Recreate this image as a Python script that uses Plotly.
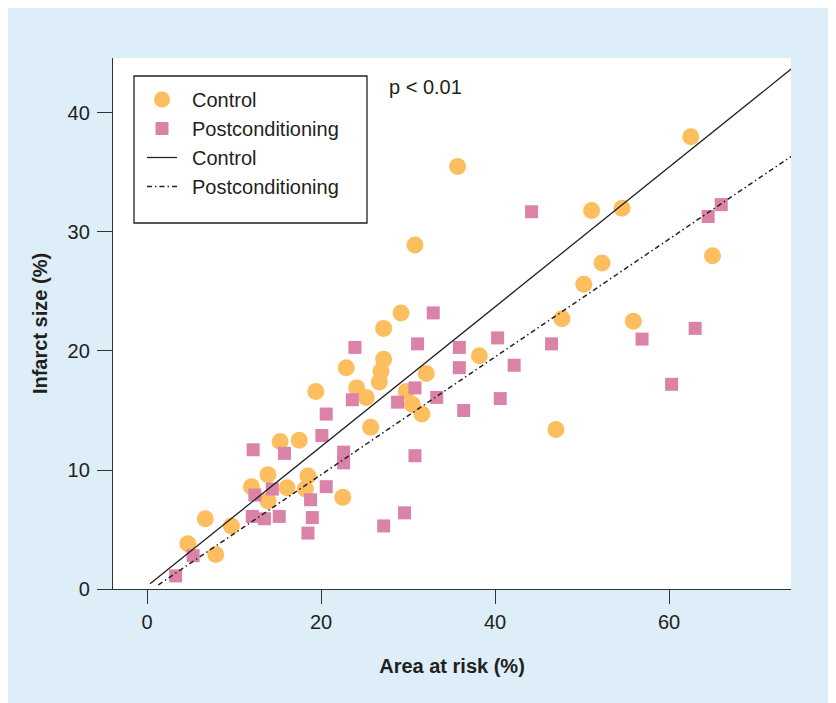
import plotly.graph_objects as go
import numpy as np

# ---- data ----
control_x = [4.7, 6.7, 7.9, 9.7, 12.0, 13.9, 13.9, 15.3, 16.1, 17.5, 18.2, 18.5, 19.4,
             22.5, 22.9, 24.1, 25.2, 25.7, 26.7, 26.9, 27.2, 27.2, 29.2, 29.8, 30.5,
             30.8, 31.6, 32.1, 35.7, 38.2, 47.0, 47.7, 50.2, 51.1, 52.3, 54.6, 55.9,
             62.5, 65.0]
control_y = [3.8, 5.9, 2.9, 5.3, 8.6, 9.6, 7.4, 12.4, 8.5, 12.5, 8.4, 9.5, 16.6,
             7.7, 18.6, 16.9, 16.1, 13.6, 17.4, 18.3, 19.3, 21.9, 23.2, 16.6, 15.5,
             28.9, 14.7, 18.1, 35.5, 19.6, 13.4, 22.7, 25.6, 31.8, 27.4, 32.0, 22.5,
             38.0, 28.0]

post_x = [3.3, 5.3, 12.1, 12.2, 12.4, 13.5, 14.4, 15.2, 15.8, 18.5, 18.8, 19.0, 20.1,
          20.6, 20.6, 22.6, 22.6, 23.6, 23.9, 27.2, 28.8, 29.6, 30.8, 30.8, 31.1,
          32.9, 33.3, 35.9, 35.9, 36.4, 40.3, 40.6, 42.2, 44.2, 46.5, 56.9, 60.3,
          63.0, 64.5, 66.0]
post_y = [1.1, 2.8, 6.1, 11.7, 7.9, 5.9, 8.4, 6.1, 11.4, 4.7, 7.5, 6.0, 12.9,
          14.7, 8.6, 11.5, 10.6, 15.9, 20.3, 5.3, 15.7, 6.4, 16.9, 11.2, 20.6,
          23.2, 16.1, 20.3, 18.6, 15.0, 21.1, 16.0, 18.8, 31.7, 20.6, 21.0, 17.2,
          21.9, 31.3, 32.3]

# regression lines (intercept, slope) and x extent
control_fit = (0.23, 0.587)
post_fit = (-0.30, 0.495)
control_fit_x = [0.35, 80]
post_fit_x = [1.3, 80]

x_ticks = [0, 20, 40, 60]
y_ticks = [0, 10, 20, 30, 40]

# ---- styling ----
ORANGE = "#FDBE60"
PINK = "#DA82A8"
BLUE_BG = "#DDEEF8"
TXT = "#231F20"
FONT = "Liberation Sans, Arial, Helvetica, sans-serif"
SP = "\u2002"  # spacing between legend symbol and label

fig = go.Figure()
fig.add_trace(go.Scatter(
    x=control_x, y=control_y, mode="markers", name=SP + "Control",
    legendgroup="a",
    marker=dict(symbol="circle", size=17, color=ORANGE, line=dict(width=0))))
fig.add_trace(go.Scatter(
    x=post_x, y=post_y, mode="markers", name=SP + "Postconditioning",
    legendgroup="b",
    marker=dict(symbol="square", size=13, color=PINK, line=dict(width=0))))

cx = np.array(control_fit_x)
fig.add_trace(go.Scatter(
    x=cx, y=control_fit[0] + control_fit[1] * cx, mode="lines", name=SP + "Control",
    legendgroup="c",
    line=dict(color="#222222", width=1.3)))
px_ = np.array(post_fit_x)
fig.add_trace(go.Scatter(
    x=px_, y=post_fit[0] + post_fit[1] * px_, mode="lines", name=SP + "Postconditioning",
    legendgroup="d",
    line=dict(color="#222222", width=1.5, dash="5px,3px,1.5px,3px")))

# page offset of 8px (body margin) -> figure coordinates
W, H = 828, 695
L, T = 105, 50
pw, ph = 678, 531
R, B = W - L - pw, H - T - ph
OFF = 8


def px2paper_x(sx):
    return (sx - OFF - L) / pw


def px2paper_y(sy):
    return (T + ph - (sy - OFF)) / ph


fig.update_layout(
    width=W, height=H,
    margin=dict(l=L, r=R, t=T, b=B, pad=0),
    paper_bgcolor=BLUE_BG,
    plot_bgcolor="white",
    font=dict(family=FONT, size=20, color=TXT),
    showlegend=True,
    legend=dict(
        x=px2paper_x(142), y=px2paper_y(80), xanchor="left", yanchor="top",
        bgcolor="rgba(0,0,0,0)", borderwidth=0,
        font=dict(family=FONT, size=20, color=TXT),
        itemwidth=30, tracegroupgap=3, traceorder="normal",
    ),
    xaxis=dict(
        range=[-3.908, 74.02], tickvals=x_ticks, showgrid=False, zeroline=False,
        showline=True, linecolor="#333333", linewidth=1.3,
        ticks="outside", ticklen=14, tickwidth=1.3, tickcolor="#333333",
        ticklabelstandoff=1,
        tickfont=dict(family=FONT, size=20, color=TXT),
        title=dict(text="<b>Area at risk (%)</b>", standoff=26,
                   font=dict(family=FONT, size=20, color=TXT)),
        automargin=False,
    ),
    yaxis=dict(
        range=[0, 44.62], tickvals=y_ticks, showgrid=False, zeroline=False,
        showline=True, linecolor="#333333", linewidth=1.3,
        ticks="outside", ticklen=15, tickwidth=1.3, tickcolor="#333333",
        ticklabelstandoff=3,
        tickfont=dict(family=FONT, size=20, color=TXT),
        title=dict(text="<b>Infarct size (%)</b>", standoff=14,
                   font=dict(family=FONT, size=20, color=TXT)),
        automargin=False,
    ),
    annotations=[dict(
        x=27.6, y=42.2, xref="x", yref="y", text="p < 0.01", showarrow=False,
        xanchor="left", yanchor="middle",
        font=dict(family=FONT, size=20, color=TXT))],
    shapes=[
        # legend frame
        dict(type="rect", xref="paper", yref="paper", layer="above",
             x0=px2paper_x(134), x1=px2paper_x(367),
             y0=px2paper_y(223), y1=px2paper_y(76),
             fillcolor="rgba(0,0,0,0)", line=dict(color="#222222", width=1.3)),
    ],
)

fig.write_html("out.html")
